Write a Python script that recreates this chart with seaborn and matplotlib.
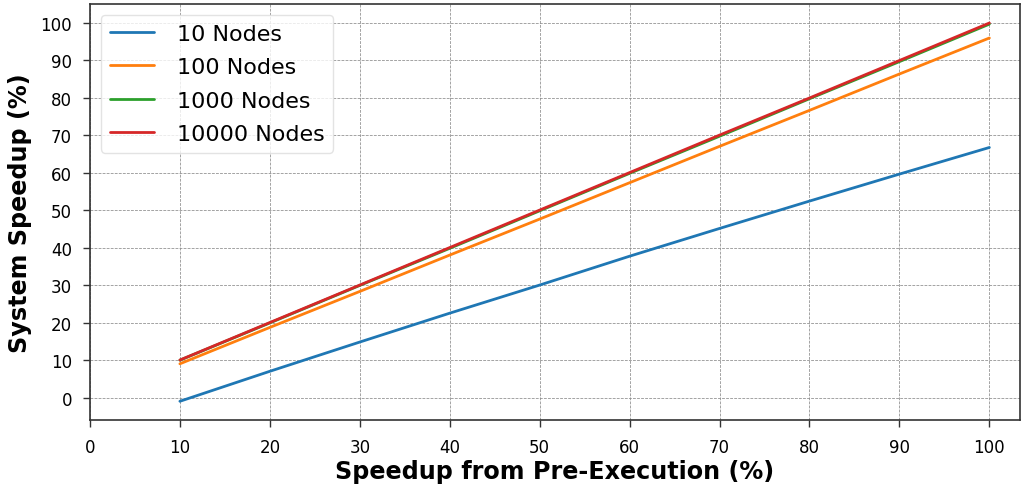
import matplotlib
matplotlib.use("Agg")
import matplotlib.pyplot as plt
import seaborn as sns
import pandas as pd

# Speedup from pre-execution (%)
pre_exec = [10, 20, 30, 40, 50, 60, 70, 80, 90, 100]

# System speedup (%) for each cluster size
nodes_10 = [-1.0, 7.0, 14.8, 22.5, 30.0, 37.7, 45.1, 52.4, 59.6, 66.7]
nodes_100 = [9.0, 18.7, 28.3, 38.0, 47.6, 57.3, 67.0, 76.6, 86.3, 95.9]
nodes_1000 = [9.96, 19.9, 29.9, 39.8, 49.8, 59.8, 69.7, 79.7, 89.6, 99.6]
nodes_10000 = [10.0, 20.0, 30.0, 40.0, 50.0, 60.0, 70.0, 79.9, 89.9, 99.9]

series_names = ["10 Nodes", "100 Nodes", "1000 Nodes", "10000 Nodes"]
series_values = [nodes_10, nodes_100, nodes_1000, nodes_10000]

rows = []
for name, vals in zip(series_names, series_values):
    for x, y in zip(pre_exec, vals):
        rows.append({"pre": x, "speedup": y, "config": name})
df = pd.DataFrame(rows)

sns.set_style("ticks")
plt.rcParams["font.family"] = ["DejaVu Sans"]
plt.rcParams.update({
    "text.color": "black",
    "axes.labelcolor": "black",
    "xtick.color": "black",
    "ytick.color": "black",
})

fig, ax = plt.subplots(figsize=(10.22, 4.89), dpi=100)
fig.subplots_adjust(left=0.088, right=0.998, top=0.99, bottom=0.139)

palette = ["#1f77b4", "#ff7f0e", "#2ca02c", "#d62728"]
sns.lineplot(data=df, x="pre", y="speedup", hue="config", hue_order=series_names,
             palette=palette, linewidth=2, ax=ax)

ax.set_xlim(0, 103.4)
ax.set_ylim(-6, 105)
ax.set_xticks(range(0, 101, 10))
ax.set_yticks(range(0, 101, 10))
ax.tick_params(labelsize=12, length=5, width=1, pad=8, color="#333333")
ax.grid(True, linestyle="--", color="#8a8a8a", linewidth=0.55)
for s in ax.spines.values():
    s.set_color("#333333")
    s.set_linewidth(1.2)

ax.set_xlabel("Speedup from Pre-Execution (%)", fontsize=17.2, fontweight="bold", labelpad=2)
ax.set_ylabel("System Speedup (%)", fontsize=17.2, fontweight="bold", labelpad=6)

leg = ax.legend(loc="upper left", fontsize=16, frameon=True, handlelength=2.0,
                labelspacing=0.6, handletextpad=1.0)
leg.get_frame().set_edgecolor("#dddddd")

fig.savefig("out.png", dpi=100)
